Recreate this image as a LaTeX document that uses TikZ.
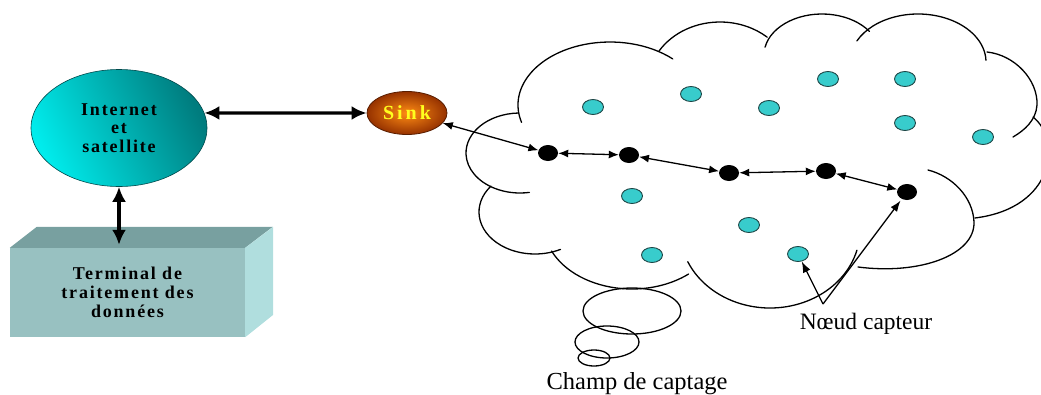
\documentclass[tikz,border=0pt]{standalone}
\usepackage{fontspec}
\setmainfont{Liberation Serif}
\newfontfamily\spacedserif[LetterSpace=10]{Liberation Serif}
\newfontfamily\widespacedserif[LetterSpace=15]{Liberation Serif}
\usetikzlibrary{arrows.meta,shapes.geometric}

\definecolor{netbright}{RGB}{0,236,236}
\definecolor{netdark}{RGB}{0,124,126}
\definecolor{sinkin}{RGB}{255,140,20}
\definecolor{sinkout}{RGB}{150,50,0}
\definecolor{sinkedge}{RGB}{90,30,0}
\definecolor{sinktext}{RGB}{255,255,30}
\definecolor{sensorfill}{RGB}{56,204,204}
\definecolor{sensoredge}{RGB}{30,70,70}
\definecolor{boxfront}{RGB}{152,193,193}
\definecolor{boxtop}{RGB}{120,160,160}
\definecolor{boxside}{RGB}{176,222,222}

% one puff of the cloud: centre x, centre y, x radius, y radius, start angle, end angle
\newcommand\puff[6]{\draw[cloudline] (#1,#2) ++(#5:#3 and #4)
  arc[start angle=#5, end angle=#6, x radius=#3, y radius=#4];}

\begin{document}
\begin{tikzpicture}[x=1pt,y=-1pt,
  labelbold/.style={font=\spacedserif\bfseries\fontsize{18}{18.7}\selectfont, align=center},
  bigarrow/.style={line width=3.4pt, {Latex[length=15pt,width=14pt]}-{Latex[length=15pt,width=14pt]}},
  smallarrow/.style={line width=1.3pt, {Latex[length=10pt,width=8pt]}-{Latex[length=10pt,width=8pt]}},
  pointer/.style={line width=1.3pt, -{Latex[length=11pt,width=8pt]}},
  cloudline/.style={line width=1.3pt, line cap=round},
  sensor/.style={ellipse, fill=sensorfill, draw=sensoredge, line width=0.9pt,
    minimum width=21pt, minimum height=15pt, inner sep=0pt},
  relay/.style={ellipse, fill=black, minimum width=20pt, minimum height=16pt, inner sep=0pt},
  caption/.style={inner sep=0pt, anchor=base}
]
\useasboundingbox (0,0) rectangle (1041,394);

% --- data processing terminal (3D block) ---
\node[fill=boxfront, minimum width=235pt, minimum height=89pt, inner sep=0pt, labelbold]
  (term) at (127.5,292.5) {Terminal de\\traitement des\\données};
\fill[boxtop] (term.north west) -- ++(27,-21) -- ++(236,0) -- (term.north east) -- cycle;
\fill[boxside] (term.north east) -- ++(28,-21) -- ++(0,88) -- (term.south east) -- cycle;

% --- Internet / satellite ---
\node[ellipse, draw=netdark!60!black, line width=0.6pt,
      left color=netbright, right color=netdark, shading angle=115,
      minimum width=176pt, minimum height=117pt, inner sep=0pt, labelbold]
  (net) at (119,128) {Internet\\et\\satellite};

% --- sink ---
\node[ellipse, draw=sinkedge, line width=0.8pt, inner color=sinkin, outer color=sinkout,
      minimum width=80pt, minimum height=43pt, inner sep=0pt, text=sinktext,
      font=\widespacedserif\bfseries\fontsize{20}{22}\selectfont]
  (sink) at (407,113) {Sink};

\draw[bigarrow] (net.10) -- (sink.west);
\draw[bigarrow, shorten >=3pt] (net.south) -- (net.south |- term.north);

% --- sensing field outline ---
\puff{610}{105}{92}{63}{164}{313}
\puff{720}{84}{72}{62}{212}{311}
\puff{822}{55}{58}{41}{191}{325}
\puff{918}{62}{68}{48}{206}{358}
\puff{520}{153}{54}{40}{268}{80}
\puff{535}{212}{56}{42}{218}{63}
\puff{632}{225}{88}{64}{156}{50}
\puff{770}{230}{90}{78}{15}{156}
\begin{scope}[cloudline]
\draw (987,52) .. controls (1015,55) and (1038,80) .. (1037,105)
               .. controls (1036,120) and (1025,130) .. (1013,137);
\draw (1033,117) .. controls (1062,140) and (1055,208) .. (975,218);
\draw (928,170) .. controls (952,176) and (973,197) .. (974,222)
                .. controls (975,255) and (920,275) .. (858,267);
% trailing bubbles
\draw (632,311) ellipse [x radius=49, y radius=23];
\draw (607,342) ellipse [x radius=32, y radius=16];
\draw (594,358) ellipse [x radius=16, y radius=8];
\end{scope}

% --- sensor nodes ---
\node[sensor] (s1) at (593,107) {};
\node[sensor] (s2) at (691,94) {};
\node[sensor] (s3) at (769,108) {};
\node[sensor] (s4) at (828,79) {};
\node[sensor] (s5) at (905,79) {};
\node[sensor] (s6) at (905,123) {};
\node[sensor] (s7) at (983,137) {};
\node[sensor] (s8) at (632,196) {};
\node[sensor] (s9) at (749,225) {};
\node[sensor] (s10) at (652,255) {};
\node[sensor] (s11) at (798,254) {};

% --- relay path nodes ---
\node[relay] (r1) at (548,153) {};
\node[relay] (r2) at (629,155) {};
\node[relay] (r3) at (729,173) {};
\node[relay] (r4) at (826,171) {};
\node[relay] (r5) at (907,192) {};

\draw[smallarrow] (sink) -- (r1);
\draw[smallarrow] (r1) -- (r2);
\draw[smallarrow] (r2) -- (r3);
\draw[smallarrow] (r3) -- (r4);
\draw[smallarrow] (r4) -- (r5);

% --- labels ---
\node[caption, font=\fontsize{23.5}{26}\selectfont] (nlab) at (866,329) {Nœud capteur};
\coordinate (fork) at (823,304);
\draw[pointer] (fork) -- (s11);
\draw[pointer, shorten >=2pt] (fork) -- (r5);

\node[caption, font=\fontsize{24.5}{27}\selectfont] (clab) at (637,389) {Champ de captage};
\end{tikzpicture}
\end{document}
